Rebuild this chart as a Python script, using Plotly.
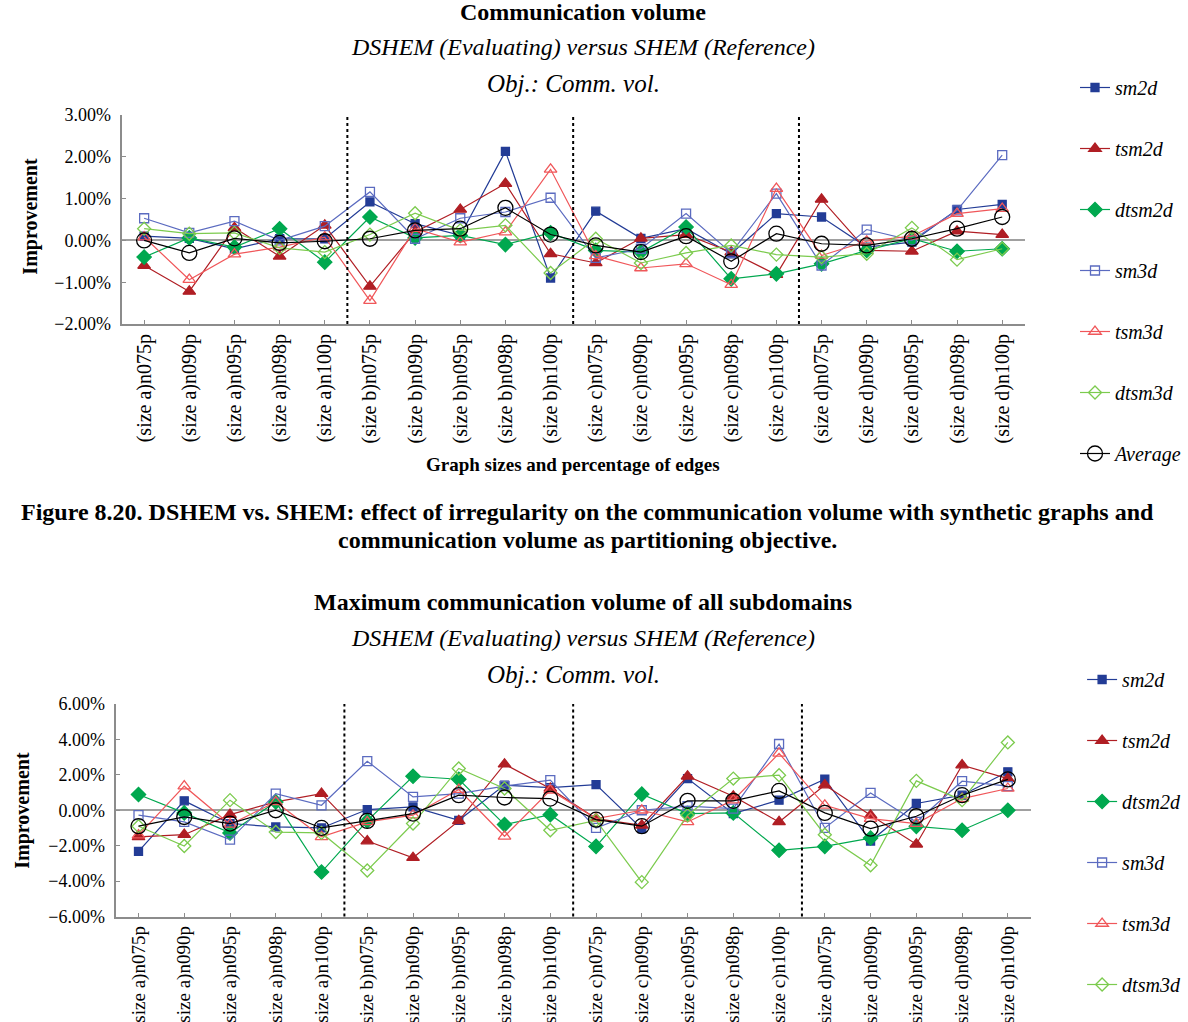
import plotly.graph_objects as go

W, H = 1188, 1022

categories = [
    "(size a)n075p", "(size a)n090p", "(size a)n095p", "(size a)n098p", "(size a)n100p",
    "(size b)n075p", "(size b)n090p", "(size b)n095p", "(size b)n098p", "(size b)n100p",
    "(size c)n075p", "(size c)n090p", "(size c)n095p", "(size c)n098p", "(size c)n100p",
    "(size d)n075p", "(size d)n090p", "(size d)n095p", "(size d)n098p", "(size d)n100p",
]
group_boundaries = [4.5, 9.5, 14.5]

# Top chart: Communication volume (values in %)
top_sm2d = [0.10, 0.05, -0.20, 0.04, 0.04, 0.92, 0.40, 0.12, 2.13, -0.90, 0.70, 0.05, 0.28, -0.32, 0.64, 0.56, -0.16, -0.04, 0.74, 0.86]
top_tsm2d = [-0.60, -1.22, 0.30, -0.38, 0.36, -1.10, 0.20, 0.74, 1.36, -0.32, -0.54, 0.05, 0.14, -0.28, -0.82, 0.98, -0.24, -0.26, 0.22, 0.14]
top_dtsm2d = [-0.40, 0.06, -0.16, 0.28, -0.52, 0.56, 0.06, 0.12, -0.10, 0.18, -0.24, -0.28, 0.32, -0.92, -0.80, -0.56, -0.24, 0.04, -0.26, -0.20]
top_sm3d = [0.53, 0.18, 0.46, 0.00, 0.34, 1.16, 0.04, 0.53, 0.68, 1.02, -0.42, -0.20, 0.64, -0.30, 1.12, -0.60, 0.26, 0.00, 0.72, 2.04]
top_tsm3d = [0.08, -0.94, -0.33, -0.16, 0.08, -1.44, 0.28, -0.04, 0.20, 1.70, -0.37, -0.66, -0.56, -1.06, 1.24, -0.36, -0.02, 0.10, 0.64, 0.76]
top_dtsm3d = [0.28, 0.16, 0.18, -0.18, -0.28, 0.14, 0.65, 0.24, 0.36, -0.78, 0.04, -0.54, -0.30, -0.12, -0.34, -0.40, -0.32, 0.30, -0.46, -0.20]
top_avg = [0.00, -0.30, 0.05, -0.06, -0.02, 0.04, 0.24, 0.28, 0.78, 0.14, -0.12, -0.28, 0.10, -0.50, 0.16, -0.08, -0.12, 0.04, 0.28, 0.56]

# Bottom chart: Maximum communication volume of all subdomains (values in %)
bot_sm2d = [-2.32, 0.53, -0.75, -0.94, -1.00, 0.04, 0.19, -0.57, 1.42, 1.28, 1.45, -1.04, 1.79, -0.19, 0.57, 1.75, -1.74, 0.38, 0.85, 2.17]
bot_tsm2d = [-1.50, -1.38, -0.25, 0.47, 0.94, -1.74, -2.68, -0.60, 2.60, 1.23, -0.47, -0.85, 1.92, 0.79, -0.66, 1.42, -0.28, -1.92, 2.55, 1.79]
bot_dtsm2d = [0.89, -0.15, -1.28, 0.47, -3.49, -0.60, 1.92, 1.75, -0.81, -0.25, -2.04, 0.91, -0.19, -0.15, -2.26, -2.04, -1.57, -0.91, -1.13, 0.00]
bot_sm3d = [-0.28, -0.66, -1.66, 0.94, 0.28, 2.77, 0.75, 0.94, 1.36, 1.70, -1.00, 0.00, 0.23, 0.09, 3.74, -1.00, 0.98, -0.66, 1.64, 1.36]
bot_tsm3d = [-1.40, 1.36, -0.80, 0.47, -1.50, -0.66, -0.28, 1.17, -1.47, 1.13, -0.47, 0.00, -0.66, 0.57, 3.21, 0.28, -0.47, -0.75, 0.66, 1.23]
bot_dtsm3d = [-0.90, -2.02, 0.57, -1.23, -1.28, -3.40, -0.75, 2.36, 1.23, -1.13, -0.57, -4.06, -0.28, 1.79, 1.98, -1.38, -3.11, 1.66, 0.57, 3.83]
bot_avg = [-0.90, -0.38, -0.75, 0.00, -1.00, -0.60, -0.19, 0.85, 0.72, 0.66, -0.53, -0.90, 0.53, 0.53, 1.09, -0.15, -1.04, -0.34, 0.85, 1.74]

series_names = ["sm2d", "tsm2d", "dtsm2d", "sm3d", "tsm3d", "dtsm3d", "Average"]
top_values = [top_sm2d, top_tsm2d, top_dtsm2d, top_sm3d, top_tsm3d, top_dtsm3d, top_avg]
bot_values = [bot_sm2d, bot_tsm2d, bot_dtsm2d, bot_sm3d, bot_tsm3d, bot_dtsm3d, bot_avg]

styles = {
    "sm2d":    dict(symbol="square", color="#233C96", size=8),
    "tsm2d":   dict(symbol="triangle-up", color="#B01E24", size=11),
    "dtsm2d":  dict(symbol="diamond", color="#00A84F", size=11),
    "sm3d":    dict(symbol="square-open", color="#5B6BC0", size=9),
    "tsm3d":   dict(symbol="triangle-up-open", color="#F0575A", size=11),
    "dtsm3d":  dict(symbol="diamond-open", color="#7CCB4E", size=10),
    "Average": dict(symbol="circle-open", color="#000000", size=15),
}

SERIF = "Liberation Serif"


def px(x):
    return x / W


def py(y):
    return 1 - y / H


fig = go.Figure()

for name, vals in zip(series_names, top_values):
    st = styles[name]
    fig.add_trace(go.Scatter(
        x=list(range(len(categories))), y=vals, name=name, mode="lines+markers",
        xaxis="x", yaxis="y", legend="legend", legendgroup="t_" + name,
        line=dict(color=st["color"], width=1.2),
        marker=dict(symbol=st["symbol"], size=st["size"], color=st["color"],
                    line=dict(color=st["color"], width=1.3)),
    ))

for name, vals in zip(series_names, bot_values):
    st = styles[name]
    fig.add_trace(go.Scatter(
        x=list(range(len(categories))), y=vals, name=name, mode="lines+markers",
        xaxis="x2", yaxis="y2", legend="legend2", legendgroup="b_" + name,
        showlegend=(name != "Average"),
        line=dict(color=st["color"], width=1.2),
        marker=dict(symbol=st["symbol"], size=st["size"], color=st["color"],
                    line=dict(color=st["color"], width=1.3)),
    ))

axis_common = dict(showline=True, linecolor="#8C8C8C", linewidth=2, ticks="inside",
                   ticklen=4, tickcolor="#8C8C8C", showgrid=False, automargin=False,
                   tickfont=dict(family=SERIF, size=18, color="black"))

xcommon = dict(axis_common, tickmode="array", tickvals=list(range(len(categories))),
               ticktext=categories, tickangle=-90, range=[-0.5, 19.5], zeroline=False)

ycommon = dict(axis_common, zeroline=True, zerolinecolor="#A0A0A0", zerolinewidth=1.5,
               tickformat=".2f", ticksuffix="%", tickmode="linear", ticklabelstandoff=5)

legend_font = dict(family=SERIF, size=20, style="italic", color="black")

fig.update_layout(
    width=W, height=H,
    margin=dict(l=0, r=0, t=0, b=0),
    paper_bgcolor="white", plot_bgcolor="white",
    xaxis=dict(xcommon, domain=[px(123), px(1037)], anchor="y",
               tickfont=dict(family=SERIF, size=20, color="black")),
    yaxis=dict(ycommon, domain=[py(324), py(115)], anchor="x", range=[-2, 3], tick0=-2, dtick=1),
    xaxis2=dict(xcommon, domain=[px(117), px(1043)], anchor="y2",
                tickfont=dict(family=SERIF, size=19, color="black")),
    yaxis2=dict(ycommon, domain=[py(916.5), py(704)], anchor="x2", range=[-6, 6], tick0=-6, dtick=2),
    legend=dict(x=px(1088), y=py(68), xanchor="left", yanchor="top", font=legend_font,
                tracegroupgap=32, traceorder="grouped", bgcolor="rgba(0,0,0,0)", itemwidth=30),
    legend2=dict(x=px(1095), y=py(660), xanchor="left", yanchor="top", font=legend_font,
                 tracegroupgap=32, traceorder="grouped", bgcolor="rgba(0,0,0,0)", itemwidth=30),
    showlegend=True,
)

shapes = []
for b in group_boundaries:
    shapes.append(dict(type="line", xref="x", yref="y domain", x0=b, x1=b, y0=0, y1=1,
                       line=dict(color="black", width=2, dash="dot")))
    shapes.append(dict(type="line", xref="x2", yref="y2 domain", x0=b, x1=b, y0=0, y1=1,
                       line=dict(color="black", width=2, dash="dot")))
fig.update_layout(shapes=shapes)

annotations = [
    dict(text="<b>Communication volume</b>", x=px(590), y=py(12), size=24),
    dict(text="<i>DSHEM (Evaluating) versus SHEM (Reference)</i>", x=px(590), y=py(47), size=24),
    dict(text="<i>Obj.: Comm. vol.</i>", x=px(580), y=py(83), size=25),
    dict(text="<b>Graph sizes and percentage of edges</b>", x=px(580), y=py(465), size=19),
    dict(text="<b>Figure 8.20. DSHEM vs. SHEM: effect of irregularity on the communication volume with synthetic graphs and</b>",
         x=px(594), y=py(512), size=24),
    dict(text="<b>communication volume as partitioning objective.</b>", x=px(594), y=py(540), size=24),
    dict(text="<b>Maximum communication volume of all subdomains</b>", x=px(590), y=py(602), size=24),
    dict(text="<i>DSHEM (Evaluating) versus SHEM (Reference)</i>", x=px(590), y=py(638), size=24),
    dict(text="<i>Obj.: Comm. vol.</i>", x=px(580), y=py(674), size=25),
]
ann_objs = []
for a in annotations:
    ann_objs.append(dict(text=a["text"], x=a["x"], y=a["y"], xref="paper", yref="paper",
                         xanchor="center", yanchor="middle", showarrow=False,
                         font=dict(family=SERIF, size=a["size"], color="black")))
ann_objs.append(dict(text="<b>Improvement</b>", x=px(30), y=py(216), xref="paper", yref="paper",
                     xanchor="center", yanchor="middle", showarrow=False, textangle=-90,
                     font=dict(family=SERIF, size=20, color="black")))
ann_objs.append(dict(text="<b>Improvement</b>", x=px(22), y=py(810), xref="paper", yref="paper",
                     xanchor="center", yanchor="middle", showarrow=False, textangle=-90,
                     font=dict(family=SERIF, size=20, color="black")))
fig.update_layout(annotations=ann_objs)

fig.write_html("out.html")
